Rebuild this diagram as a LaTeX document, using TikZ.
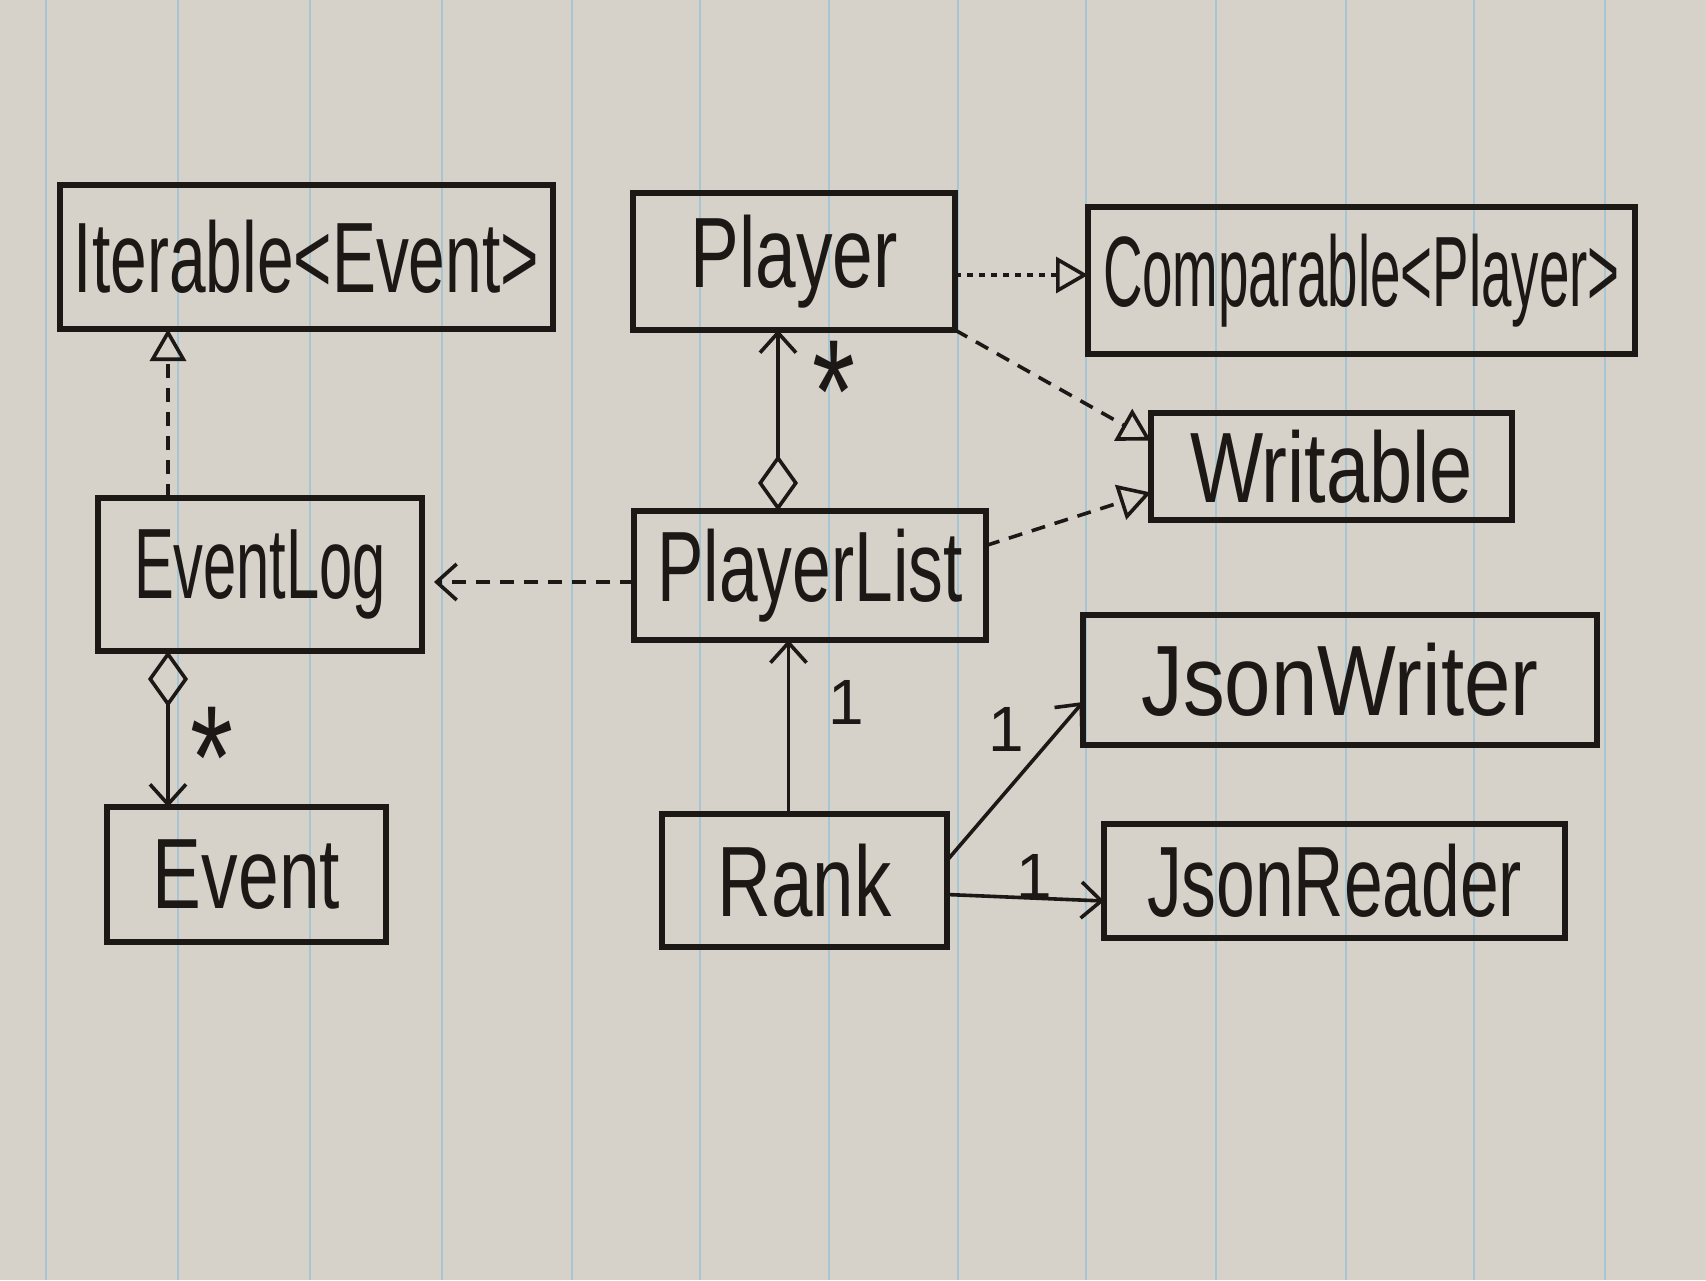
\documentclass[tikz,border=0pt]{standalone}
\usepackage{fontspec}
\setmainfont{Liberation Sans}
\usetikzlibrary{arrows.meta,calc}
\definecolor{paper}{RGB}{214,210,201}
\definecolor{ruleblue}{RGB}{165,198,210}
\definecolor{ink}{RGB}{28,24,22}
\newcommand{\hw}[2]{\resizebox{#1}{\height}{#2}}
\begin{document}
\begin{tikzpicture}[x=0.5pt,y=-0.5pt,
  cls/.style={draw=ink,line width=3pt,inner sep=0pt,outer sep=0pt,text=ink,
    font=\fontsize{50}{58}\selectfont,rectangle,anchor=center},
  conn/.style={draw=ink,line width=1.8pt},
  dashedconn/.style={conn,dash pattern=on 7pt off 5pt},
  dottedconn/.style={conn,dash pattern=on 3pt off 3pt},
  realize/.style={-{Triangle[open,length=16pt,width=18pt,line width=1.8pt]}},
  navig/.style={-{Straight Barb[length=10pt,width=18pt,line width=1.8pt]}},
  aggr/.style={{Diamond[open,length=28pt,width=20pt,line width=1.8pt]}-{Straight Barb[length=10pt,width=18pt,line width=1.8pt]}},
  mult/.style={text=ink,font=\fontsize{32}{36}\selectfont,inner sep=0pt},
  star/.style={text=ink,font=\fontsize{46}{50}\selectfont,inner sep=0pt}
]
\useasboundingbox (0,0) rectangle (1706,1280);
\fill[paper] (0,0) rectangle (1706,1280);
\foreach \x in {46,178,310,442,572,700,829,958,1086,1216,1346,1474,1605}
  \draw[ruleblue,line width=1.1pt] (\x,0) -- (\x,1280);

% classes
\node[cls,minimum width=246.5pt,minimum height=72pt] (iter) at (306.5,257) {\hw{232.5pt}{Iterable<Event>}};
\node[cls,minimum width=161pt,minimum height=68.5pt] (player) at (794,261.5) {\hw{103.5pt}{Player}\hspace{12pt}};
\node[cls,minimum width=273.5pt,minimum height=73.5pt] (comp) at (1361.5,280.5) {\hw{258.5pt}{Comparable<Player>}};
\node[cls,minimum width=180.5pt,minimum height=53.5pt] (writ) at (1331.5,466.5) {\hw{141.5pt}{Writable}};
\node[cls,minimum width=162pt,minimum height=76.5pt] (elog) at (260,574.5) {\hw{126pt}{EventLog}};
\node[cls,minimum width=176pt,minimum height=64.5pt] (plist) at (810,575.5) {\hw{152.5pt}{PlayerList}};
\node[cls,minimum width=257pt,minimum height=65pt] (jw) at (1340,680) {\hw{198.5pt}{JsonWriter}\hspace{26pt}};
\node[cls,minimum width=230.5pt,minimum height=57pt] (jr) at (1334.5,881) {\hw{187.5pt}{JsonReader}\hspace{26pt}};
\node[cls,minimum width=139.5pt,minimum height=67.5pt] (event) at (246.5,874.5) {\hw{93.5pt}{Event}\hspace{24pt}};
\node[cls,minimum width=142.5pt,minimum height=66.5pt] (rank) at (804.5,880.5) {\hw{87pt}{Rank}};

% EventLog realizes Iterable<Event>
\coordinate (elt) at ([xshift=-46pt]elog.north);
\draw[dashedconn,realize] (elt) -- (elt |- iter.south);

% Player realizes Comparable<Player>
\coordinate (pce) at ([yshift=-6.75pt]player.east);
\draw[dottedconn,realize] (pce) -- (pce -| comp.west);

% Player realizes Writable
\draw[dashedconn,realize] (player.south east) -- ([yshift=13pt]writ.west);

% PlayerList realizes Writable
\draw[dashedconn,realize] ([yshift=15pt]plist.east) -- ([yshift=-13pt]writ.west);

% PlayerList aggregates Player
\coordinate (plt) at ([xshift=-16pt]plist.north);
\draw[conn,aggr] (plt) -- (plt |- player.south);
\node[star] (m1) at (834,392) {\scalebox{1.2}[1.6]{*}};

% PlayerList depends on EventLog
\coordinate (plw) at ([yshift=-3.25pt]plist.west);
\draw[dashedconn,navig,shorten >=6pt] (plw) -- (plw -| elog.east);

% EventLog aggregates Event
\coordinate (elb) at ([xshift=-46pt]elog.south);
\draw[conn,aggr] (elb) -- (elb |- event.north);
\node[star] (m2) at (212,758) {\scalebox{1.2}[1.6]{*}};

% Rank associations
\coordinate (rkt) at ([xshift=-8pt]rank.north);
\draw[conn,navig] (rkt) -- (rkt |- plist.south);
\node[mult] (m3) at (846,702) {1};
\draw[conn,navig] ([yshift=10pt]rank.east) -- ([yshift=-11pt]jw.west);
\node[mult] (m4) at (1006,729) {1};
\draw[conn,navig] ([yshift=-7pt]rank.east) -- ([yshift=-10pt]jr.west);
\node[mult] (m5) at (1034,876) {1};
\end{tikzpicture}
\end{document}
